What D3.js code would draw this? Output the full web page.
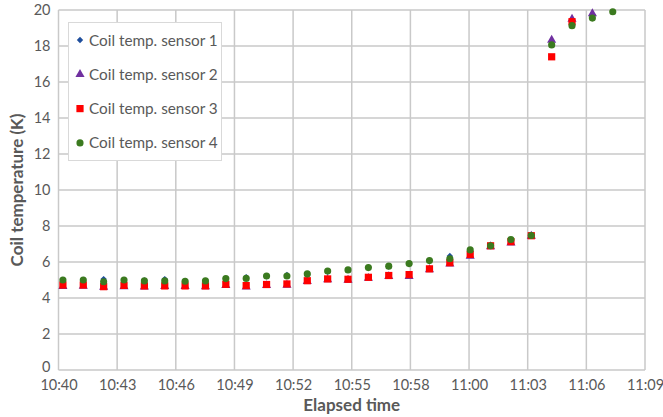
<!DOCTYPE html>
<html>
<head>
<meta charset="utf-8">
<script src="https://cdn.jsdelivr.net/npm/d3@7.9.0/dist/d3.min.js"></script>
<style>
  body { margin: 0; background: #fff; }
  text { font-family: Lato, "Open Sans", sans-serif; fill: #595959; }
</style>
</head>
<body>
<svg id="chart" width="663" height="417"></svg>
<script>
// readings, one per minute
const times = ['10:40:13','10:41:13','10:42:13','10:43:13','10:44:13','10:45:13','10:46:13',
  '10:47:13','10:48:13','10:49:13','10:50:13','10:51:13','10:52:13','10:53:13','10:54:13',
  '10:55:13','10:56:13','10:57:13','10:58:13','10:59:13','11:00:13','11:01:13','11:02:13',
  '11:03:13','11:04:13','11:05:13','11:06:13','11:07:13'];

const sensor1 = [5.0, 5.0, 5.05, 5.0, 4.97, 5.05, 4.95, 4.95, 5.05, 5.15, 5.2, 5.28, 5.3, 5.45,
  5.55, 5.68, 5.75, 5.88, 6.07, 6.33, 6.62, 6.88, 7.22, 7.45, 18.25, 19.4, 19.75, null];
const sensor2 = [4.65, 4.66, 4.6, 4.63, 4.62, 4.64, 4.64, 4.63, 4.7, 4.62, 4.7, 4.72, 4.92, 5.02,
  5.0, 5.1, 5.2, 5.2, 5.58, 5.9, 6.33, 6.86, 7.06, 7.44, 18.33, 19.5, 19.8, null];
const sensor3 = [4.72, 4.72, 4.63, 4.7, 4.67, 4.67, 4.67, 4.67, 4.76, 4.69, 4.75, 4.78, 4.96, 5.06,
  5.04, 5.15, 5.25, 5.3, 5.62, 5.96, 6.42, 6.9, 7.13, 7.46, 17.4, 19.35, null, null];
const sensor4 = [5.0, 5.0, 4.9, 5.0, 4.95, 4.95, 4.93, 4.95, 5.08, 5.09, 5.22, 5.22, 5.34, 5.5,
  5.56, 5.69, 5.77, 5.91, 6.08, 6.18, 6.67, 6.9, 7.25, 7.47, 18.06, 19.13, 19.55, 19.9];

const seriesNames = ['Coil temp. sensor 1', 'Coil temp. sensor 2', 'Coil temp. sensor 3', 'Coil temp. sensor 4'];
const xTickLabels = ['10:40','10:43','10:46','10:49','10:52','10:55','10:58','11:00','11:03','11:06','11:09'];
const yTicks = [0, 2, 4, 6, 8, 10, 12, 14, 16, 18, 20];

const colors = ['#1f4e9c', '#7030a0', '#ff0000', '#3b7a1f'];
const symbols = [d3.symbolDiamond2, d3.symbolTriangle, d3.symbolSquare, d3.symbolCircle];
const symSizes = [26, 36, 52, 40];

const svg = d3.select('#chart');
const plotLeft = 58.5, plotRight = 645, plotTop = 10, plotBottom = 370;

const toMin = (s) => {
  const [h, m, sec] = s.split(':').map(Number);
  return (h * 60 + m + sec / 60) - (10 * 60 + 40);
};
// excel style major unit: 0.002 day
const span = 28.8;
const x = d3.scaleLinear().domain([0, span]).range([plotLeft, plotRight]);
const y = d3.scaleLinear().domain([0, 20]).range([plotBottom, plotTop]);
const xTickPos = xTickLabels.map((_, i) => i * span / (xTickLabels.length - 1));

// grid
const grid = svg.append('g').attr('stroke', '#c9c9c9').attr('stroke-width', 1.5);
grid.selectAll('.hg').data(yTicks).join('line')
  .attr('x1', plotLeft).attr('x2', plotRight)
  .attr('y1', (d) => y(d)).attr('y2', (d) => y(d));
grid.selectAll('.vg').data(xTickPos).join('line')
  .attr('x1', (d) => x(d)).attr('x2', (d) => x(d))
  .attr('y1', plotTop).attr('y2', plotBottom);

// axes
const yAxis = svg.append('g').attr('transform', `translate(${plotLeft},0)`)
  .call(d3.axisLeft(y).tickValues(yTicks).tickSize(0).tickPadding(8));
const xAxis = svg.append('g').attr('transform', `translate(0,${plotBottom})`)
  .call(d3.axisBottom(x).tickValues(xTickPos).tickSize(0).tickPadding(10)
    .tickFormat((d, i) => xTickLabels[i]));
[xAxis, yAxis].forEach((a) => {
  a.select('.domain').remove();
  a.selectAll('text').style('font-size', '14.5px').attr('fill', '#595959')
    .style('font-family', 'Lato, sans-serif');
});
// keep the "0" clear of the first time label
yAxis.selectAll('text').filter((d) => d === 0).attr('dy', '0.1em');

// points
const allSeries = [sensor1, sensor2, sensor3, sensor4];
allSeries.forEach((vals, si) => {
  const pts = vals.map((v, i) => ({ t: toMin(times[i]), v })).filter((d) => d.v != null);
  svg.append('g').selectAll('path').data(pts).join('path')
    .attr('d', d3.symbol().type(symbols[si]).size(symSizes[si]))
    .attr('transform', (d) => `translate(${x(d.t)},${y(d.v)})`)
    .attr('fill', colors[si]);
});

// titles
svg.append('text').attr('x', (plotLeft + plotRight) / 2).attr('y', 411)
  .attr('text-anchor', 'middle').style('font-size', '17px').style('font-weight', 'bold')
  .text('Elapsed time');
svg.append('text').attr('transform', `translate(23,${(plotTop + plotBottom) / 2}) rotate(-90)`)
  .attr('text-anchor', 'middle').style('font-size', '17px').style('font-weight', 'bold')
  .text('Coil temperature (K)');

// legend
const legend = svg.append('g');
legend.append('rect').attr('x', 68.5).attr('y', 22.5).attr('width', 153).attr('height', 138)
  .attr('fill', '#fff').attr('stroke', '#d9d9d9');
seriesNames.forEach((name, i) => {
  const ly = 40 + i * 34.3;
  legend.append('path')
    .attr('d', d3.symbol().type(symbols[i]).size(symSizes[i]))
    .attr('transform', `translate(80,${ly})`)
    .attr('fill', colors[i]);
  legend.append('text').attr('x', 89).attr('y', ly + 5.5)
    .style('font-size', '15.3px').text(name);
});
</script>
</body>
</html>
